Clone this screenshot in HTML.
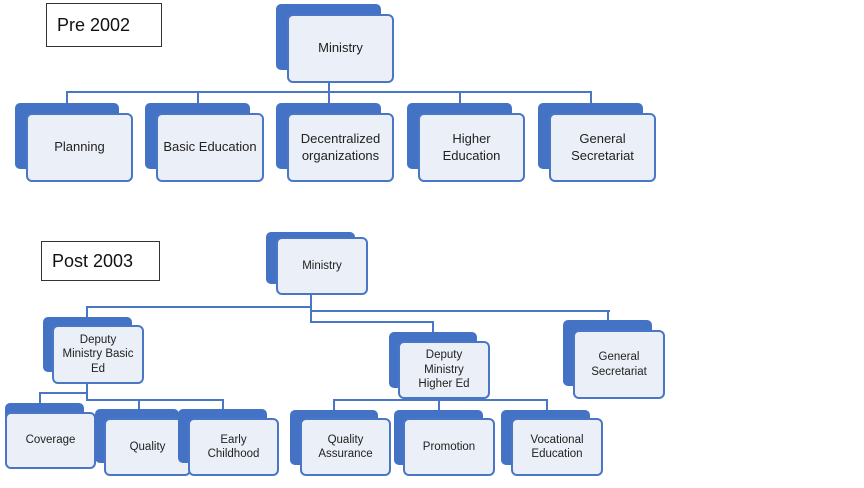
<!DOCTYPE html>
<html><head><style>
body{margin:0;width:864px;height:488px;background:#fff;position:relative;overflow:hidden;font-family:"Liberation Sans",sans-serif;}
.b{position:absolute;background:#4472c4;border-radius:5px;}
.f{position:absolute;background:#ebeff7;border:2px solid #4a76c6;border-radius:6px;box-sizing:border-box;display:flex;align-items:center;justify-content:center;text-align:center;color:#222;line-height:1.25;}
.t{font-size:13px}.s{font-size:11.5px}
.l{position:absolute;background:#4a76c6;}
.h{height:2px}.v{width:2px}
.lab{position:absolute;border:1.5px solid #333;box-sizing:border-box;font-size:18px;color:#111;padding-left:10px;display:flex;align-items:center;}
</style></head><body>
<div class="lab" style="left:46px;top:3px;width:116px;height:44px;">Pre 2002</div>
<div class="lab" style="left:41px;top:241px;width:119px;height:40px;">Post 2003</div>

<!-- top connectors -->
<div class="l v" style="left:328px;top:82px;height:11px"></div>
<div class="l h" style="left:66px;top:91px;width:526px"></div>
<div class="l v" style="left:66px;top:91px;height:12px"></div>
<div class="l v" style="left:197px;top:91px;height:12px"></div>
<div class="l v" style="left:328px;top:91px;height:12px"></div>
<div class="l v" style="left:459px;top:91px;height:12px"></div>
<div class="l v" style="left:590px;top:91px;height:12px"></div>

<div class="b" style="left:276px;top:4px;width:105px;height:66px"></div>
<div class="f t" style="left:287px;top:14px;width:107px;height:69px">Ministry</div>

<div class="b" style="left:15px;top:103px;width:104px;height:66px"></div>
<div class="f t" style="left:26px;top:113px;width:107px;height:69px">Planning</div>
<div class="b" style="left:145px;top:103px;width:105px;height:66px"></div>
<div class="f t" style="left:156px;top:113px;width:108px;height:69px">Basic Education</div>
<div class="b" style="left:276px;top:103px;width:105px;height:66px"></div>
<div class="f t" style="left:287px;top:113px;width:107px;height:69px">Decentralized<br>organizations</div>
<div class="b" style="left:407px;top:103px;width:105px;height:66px"></div>
<div class="f t" style="left:418px;top:113px;width:107px;height:69px">Higher<br>Education</div>
<div class="b" style="left:538px;top:103px;width:105px;height:66px"></div>
<div class="f t" style="left:549px;top:113px;width:107px;height:69px">General<br>Secretariat</div>

<!-- bottom connectors -->
<div class="l v" style="left:310px;top:294px;height:29px"></div>
<div class="l h" style="left:86px;top:306px;width:226px"></div>
<div class="l v" style="left:86px;top:306px;height:12px"></div>
<div class="l h" style="left:310px;top:310px;width:300px"></div>
<div class="l v" style="left:607px;top:310px;height:10px"></div>
<div class="l h" style="left:310px;top:321px;width:124px"></div>
<div class="l v" style="left:432px;top:321px;height:11px"></div>

<div class="l v" style="left:86px;top:383px;height:18px"></div>
<div class="l h" style="left:39px;top:392px;width:49px"></div>
<div class="l v" style="left:39px;top:392px;height:11px"></div>
<div class="l h" style="left:86px;top:399px;width:138px"></div>
<div class="l v" style="left:138px;top:399px;height:10px"></div>
<div class="l v" style="left:222px;top:399px;height:10px"></div>

<div class="l v" style="left:438px;top:398px;height:3px"></div>
<div class="l h" style="left:333px;top:399px;width:215px"></div>
<div class="l v" style="left:333px;top:399px;height:11px"></div>
<div class="l v" style="left:438px;top:399px;height:11px"></div>
<div class="l v" style="left:546px;top:399px;height:11px"></div>

<div class="b" style="left:266px;top:232px;width:89px;height:52px"></div>
<div class="f s" style="left:276px;top:237px;width:92px;height:58px">Ministry</div>

<div class="b" style="left:43px;top:317px;width:89px;height:55px"></div>
<div class="f s" style="left:52px;top:325px;width:92px;height:59px">Deputy<br>Ministry Basic<br>Ed</div>
<div class="b" style="left:389px;top:332px;width:88px;height:56px"></div>
<div class="f s" style="left:398px;top:341px;width:92px;height:58px">Deputy<br>Ministry<br>Higher Ed</div>
<div class="b" style="left:563px;top:320px;width:89px;height:66px"></div>
<div class="f s" style="left:573px;top:330px;width:92px;height:69px">General<br>Secretariat</div>

<div class="b" style="left:5px;top:403px;width:79px;height:55px"></div>
<div class="f s" style="left:5px;top:412px;width:91px;height:57px">Coverage</div>
<div class="b" style="left:95px;top:409px;width:84px;height:54px"></div>
<div class="f s" style="left:104px;top:418px;width:87px;height:58px">Quality</div>
<div class="b" style="left:178px;top:409px;width:89px;height:54px"></div>
<div class="f s" style="left:188px;top:418px;width:91px;height:58px">Early<br>Childhood</div>

<div class="b" style="left:290px;top:410px;width:88px;height:55px"></div>
<div class="f s" style="left:300px;top:418px;width:91px;height:58px">Quality<br>Assurance</div>
<div class="b" style="left:394px;top:410px;width:89px;height:55px"></div>
<div class="f s" style="left:403px;top:418px;width:92px;height:58px">Promotion</div>
<div class="b" style="left:501px;top:410px;width:89px;height:55px"></div>
<div class="f s" style="left:511px;top:418px;width:92px;height:58px">Vocational<br>Education</div>
</body></html>
